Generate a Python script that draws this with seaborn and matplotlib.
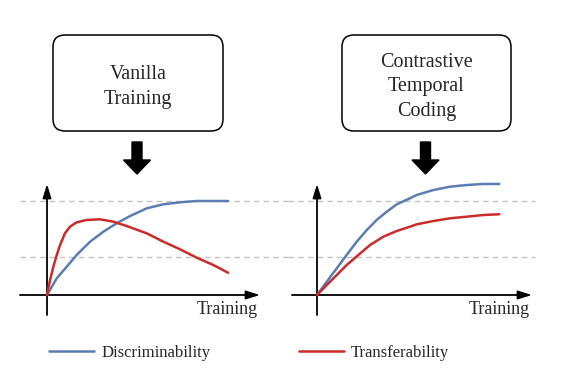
import matplotlib
matplotlib.use("Agg")
import matplotlib.pyplot as plt
from matplotlib.patches import FancyBboxPatch
import pandas as pd
import seaborn as sns

sns.set_theme(style="white")
plt.rcParams['font.family'] = ['Liberation Serif', 'DejaVu Serif']

# curves (x = training progress, y = score, upper dashed = 1)
van_x_disc = [0, 0.054, 0.109, 0.164, 0.238, 0.311, 0.385, 0.459, 0.551, 0.643, 0.735, 0.827, 1.0]
van_y_disc = [0, 0.178, 0.301, 0.426, 0.567, 0.673, 0.763, 0.840, 0.922, 0.965, 0.986, 1.0, 1.0]
van_x_tran = [0, 0.017, 0.035, 0.054, 0.072, 0.099, 0.127, 0.164, 0.219, 0.293, 0.366, 0.440,
              0.551, 0.643, 0.735, 0.827, 0.919, 1.0]
van_y_tran = [0, 0.160, 0.301, 0.426, 0.532, 0.656, 0.727, 0.773, 0.798, 0.805, 0.780, 0.734,
              0.656, 0.567, 0.486, 0.397, 0.319, 0.237]

ctc_x_disc = [0, 0.053, 0.108, 0.162, 0.217, 0.272, 0.326, 0.381, 0.436, 0.508, 0.545, 0.636,
              0.727, 0.818, 0.909, 0.996]
ctc_y_disc = [0, 0.141, 0.284, 0.426, 0.567, 0.691, 0.798, 0.886, 0.965, 1.029, 1.064, 1.117,
              1.152, 1.170, 1.181, 1.181]
ctc_x_tran = [0, 0.053, 0.108, 0.162, 0.226, 0.290, 0.362, 0.436, 0.508, 0.545, 0.636, 0.727,
              0.818, 0.909, 0.996]
ctc_y_tran = [0, 0.106, 0.213, 0.319, 0.426, 0.532, 0.620, 0.681, 0.727, 0.752, 0.787, 0.816,
              0.833, 0.851, 0.859]

ref_levels = [1.0, 0.404]
titles = ["Vanilla\nTraining", "Contrastive\nTemporal\nCoding"]
metrics = ["Discriminability", "Transferability"]
colors = {"Discriminability": "#5b7db1", "Transferability": "#cc2b2b"}

W, H = 569, 372
fig = plt.figure(figsize=(W / 100, H / 100), dpi=100)


def px_axes(x0, y0, x1, y1):
    return fig.add_axes([x0 / W, 1 - y1 / H, (x1 - x0) / W, (y1 - y0) / H])


# background layer in pixel units for boxes and block arrows
bg = fig.add_axes([0, 0, 1, 1], zorder=0)
bg.set_xlim(0, W)
bg.set_ylim(H, 0)
bg.axis("off")

boxes = [(53, 35, 223, 131), (342, 35, 511, 131)]
for (x0, y0, x1, y1), title in zip(boxes, titles):
    r = 12
    bg.add_patch(FancyBboxPatch((x0 + r, y0 + r), x1 - x0 - 2 * r, y1 - y0 - 2 * r,
                                boxstyle=f"round,pad={r}", fc="white", ec="black", lw=1.1))
    bg.text((x0 + x1) / 2, (y0 + y1) / 2 + 4, title, ha="center", va="center",
            fontsize=14.5, linespacing=1.4)
    cx = (x0 + x1) / 2 - 1
    bg.arrow(cx, 142, 0, 32, width=10, head_width=27, head_length=14,
             length_includes_head=True, fc="black", ec="black")

# panels: origin pixel, x unit, axes pixel box
panels = [
    dict(ox=47, unit=181, box=(15, 178, 295, 322), dash=(20, 290), xax=(20, 260),
         data={"Discriminability": (van_x_disc, van_y_disc),
               "Transferability": (van_x_tran, van_y_tran)}),
    dict(ox=317, unit=183, box=(280, 178, 540, 322), dash=(288, 535), xax=(292, 532),
         data={"Discriminability": (ctc_x_disc, ctc_y_disc),
               "Transferability": (ctc_x_tran, ctc_y_tran)}),
]
oy, yunit = 295, 94
handles = labels = None
for p in panels:
    x0, y0, x1, y1 = p["box"]
    ax = px_axes(x0, y0, x1, y1)
    ax.patch.set_alpha(0)
    ax.set_xlim((x0 - p["ox"]) / p["unit"], (x1 - p["ox"]) / p["unit"])
    ax.set_ylim((oy - y1) / yunit, (oy - y0) / yunit)
    ax.axis("off")

    d0 = (p["dash"][0] - p["ox"]) / p["unit"]
    d1 = (p["dash"][1] - p["ox"]) / p["unit"]
    for lv in ref_levels:
        ax.hlines(lv, d0, d1, colors="#c4c4c4", lw=1, linestyles=(0, (4, 3)), zorder=1)

    rows = []
    for m in metrics:
        xs, ys = p["data"][m]
        rows += [{"x": a, "y": b, "metric": m} for a, b in zip(xs, ys)]
    df = pd.DataFrame(rows)
    sns.lineplot(data=df, x="x", y="y", hue="metric", palette=colors, sort=False,
                 lw=1.8, ax=ax, zorder=3, solid_joinstyle="round", solid_capstyle="round")
    handles, labels = ax.get_legend_handles_labels()
    ax.get_legend().remove()

    arrow = dict(arrowstyle="-|>,head_length=0.55,head_width=0.17", lw=1.3, color="black",
                 mutation_scale=15, shrinkA=0, shrinkB=0)
    xa0 = (p["xax"][0] - p["ox"]) / p["unit"]
    xa1 = (p["xax"][1] - p["ox"]) / p["unit"]
    ax.annotate("", xy=(xa1, 0), xytext=(xa0, 0), arrowprops=arrow, zorder=2)
    ax.annotate("", xy=(0, (oy - 184) / yunit), xytext=(0, (oy - 315) / yunit),
                arrowprops=arrow, zorder=2)
    ax.text(xa1 - 2 / p["unit"], (oy - 314) / yunit, "Training", ha="right",
            va="baseline", fontsize=13)

fig.legend(handles, labels, loc="center", bbox_to_anchor=(249 / W, 1 - 353 / H), ncol=2,
           frameon=False, fontsize=12, handlelength=2.7, handletextpad=0.4,
           columnspacing=5.3)

fig.savefig("out.png", dpi=100)
